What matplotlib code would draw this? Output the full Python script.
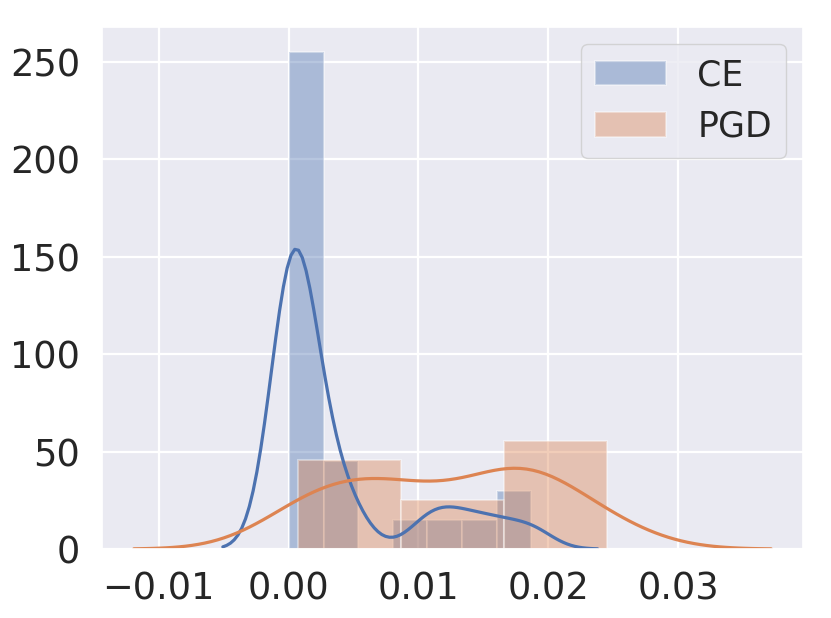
import numpy as np
import matplotlib
matplotlib.use("Agg")
import matplotlib.pyplot as plt
import seaborn as sns

ce_values = [0.00003, 0.00004, 0.00004, 0.00004, 0.00004, 0.00004, 0.00028,
             0.00028, 0.00028, 0.00028, 0.00028, 0.00028, 0.00028, 0.00163,
             0.00166, 0.00174, 0.00185, 0.00270, 0.00440, 0.00459, 0.01055,
             0.01200, 0.01390, 0.01607, 0.01870]
pgd_values = [0.00075, 0.00232, 0.00171, 0.00167, 0.00250, 0.00615, 0.00576,
              0.00728, 0.00753, 0.00935, 0.00875, 0.01037, 0.01310, 0.01599,
              0.01846, 0.01719, 0.01659, 0.01659, 0.01778, 0.01844, 0.01890,
              0.01975, 0.02220, 0.02450, 0.02450]
labels = ["CE", "PGD"]
bin_counts = [7, 3]


def scott_bw(x):
    q75, q25 = np.percentile(x, [75, 25])
    iqr = (q75 - q25) / 1.349
    sd = np.std(x, ddof=1)
    a = min(sd, iqr) if iqr > 0 else sd
    return 1.059 * a * len(x) ** (-0.2)


def kde(x, gridsize=100, cut=3):
    x = np.asarray(x, dtype=float)
    bw = scott_bw(x)
    grid = np.linspace(x.min() - cut * bw, x.max() + cut * bw, gridsize)
    dens = np.exp(-0.5 * ((grid[:, None] - x[None, :]) / bw) ** 2).sum(1)
    dens /= len(x) * bw * np.sqrt(2 * np.pi)
    return grid, dens


sns.set_theme(style="darkgrid")
plt.rcParams['font.family'] = ['DejaVu Sans']

fig = plt.figure(figsize=(8.31, 6.18), dpi=100)
ax = fig.add_axes([102 / 831, 69 / 618, 701 / 831, 522 / 618])
colors = sns.color_palette("deep")[:2]

for data, label, nb, c in zip([ce_values, pgd_values], labels, bin_counts, colors):
    ax.hist(data, bins=nb, density=True, color=c, alpha=0.4, label=label,
            edgecolor="white", linewidth=1.5)
    g, d = kde(data)
    ax.plot(g, d, color=c, lw=2.3)

ax.grid(linewidth=1.6)
ax.tick_params(labelsize=26.5, pad=15.5, length=0)
ax.legend(fontsize=25, loc="upper right", handlelength=2.05, handletextpad=0.9)

fig.savefig("out.png", dpi=100)
